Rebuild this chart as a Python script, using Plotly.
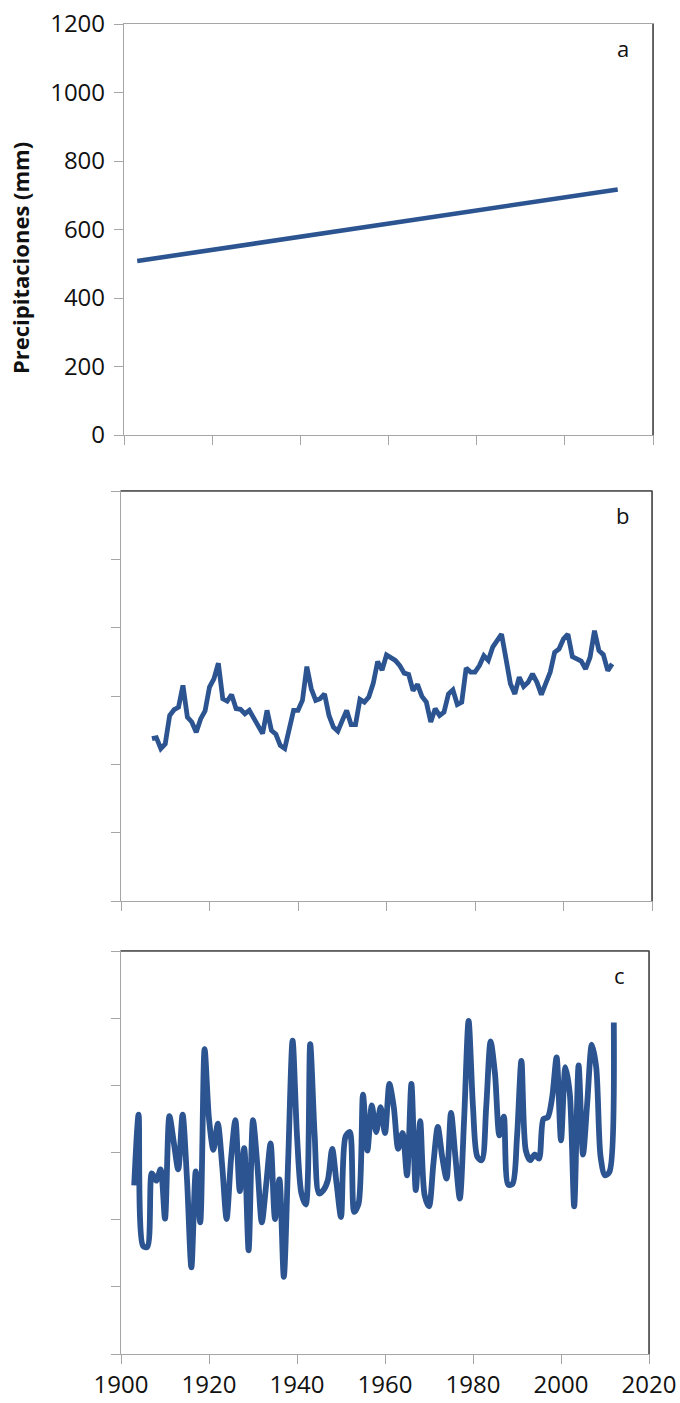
import plotly.graph_objects as go

# Annual precipitation series (mm), 1903-2012
years_c = list(range(1903, 2013))
precip_annual = [
    502, 713, 322, 319, 538, 516, 550, 403, 708, 630,
    550, 713, 520, 258, 544, 392, 908, 700, 608, 686,
    560, 402, 580, 696, 485, 613, 309, 696, 560, 392,
    505, 627, 402, 520, 230, 580, 933, 650, 478, 445,
    923, 655, 478, 488, 517, 611, 507, 408, 646, 661,
    423, 448, 772, 606, 740, 661, 735, 658, 804, 735,
    611, 658, 532, 804, 488, 693, 473, 440, 567, 676,
    587, 522, 718, 587, 463, 705, 992, 735, 587, 577,
    735, 931, 834, 651, 707, 504, 507, 646, 873, 606,
    577, 594, 582, 700, 705, 765, 883, 636, 854, 775,
    440, 859, 594, 755, 921, 854, 587, 532, 542, 987,
]

# Smoothed series (mm), 1907-2012
years_b = list(range(1907, 2013))
precip_smooth = [
    475, 478, 446, 460, 543, 560, 567, 631, 538, 524,
    494, 533, 556, 626, 650, 696, 592, 585, 604, 563,
    561, 548, 558, 533, 512, 490, 558, 499, 488, 455,
    446, 504, 558, 558, 587, 686, 621, 587, 592, 606,
    543, 509, 497, 528, 558, 516, 516, 590, 582, 597,
    637, 701, 676, 720, 713, 704, 689, 667, 663, 616,
    634, 599, 582, 524, 563, 543, 553, 606, 618, 575,
    582, 682, 670, 670, 689, 718, 704, 743, 762, 781,
    709, 636, 606, 655, 628, 640, 665, 640, 604, 636,
    670, 728, 738, 767, 781, 715, 709, 702, 679, 713,
    791, 733, 721, 674, 694,
]

# Linear trend (mm), endpoints 1903 and 2012
years_a = [1903, 2012]
precip_trend = [508, 717]

panel_labels = ["a", "b", "c"]
x_ticks = [1900, 1920, 1940, 1960, 1980, 2000, 2020]
y_ticks = [0, 200, 400, 600, 800, 1000, 1200]

W, H = 680, 1403
LINE_BLUE = "#2C5491"
AXIS_GRAY = "#A6A6A6"
BORDER_DARK = "#4A4A4A"
FONT = "Open Sans"


def fx(px):
    return px / W


def fy(py):
    return 1 - py / H


# plot-area boxes in pixels: (left, right, top, bottom)
boxes = [
    (124, 653, 24, 435),
    (121, 652, 491, 901),
    (121, 649, 951, 1354),
]

fig = go.Figure()

series = [
    (years_a, precip_trend, "linear", 4.6),
    (years_b, precip_smooth, "linear", 4.8),
    (years_c, precip_annual, "spline", 5.8),
]

for i, ((xs, ys, shape, lw), (l, r, t, b)) in enumerate(zip(series, boxes)):
    n = "" if i == 0 else str(i + 1)
    fig.add_trace(go.Scatter(
        x=xs, y=ys, mode="lines",
        line=dict(color=LINE_BLUE, width=lw, shape=shape,
                  **({"smoothing": 0.8} if shape == "spline" else {})),
        xaxis="x" + n, yaxis="y" + n, showlegend=False, hoverinfo="skip",
    ))
    show_x_labels = (i == 2)
    show_y_labels = (i == 0)
    fig.update_layout({
        "xaxis" + n: dict(
            domain=[fx(l), fx(r)], anchor="y" + n, automargin=False,
            range=[1900, 2020], tickvals=x_ticks,
            ticks="outside", ticklen=9, tickwidth=1.3, tickcolor=AXIS_GRAY,
            showticklabels=show_x_labels,
            showline=True, linecolor=AXIS_GRAY, linewidth=1.3, mirror=True,
            showgrid=False, zeroline=False,
            tickfont=dict(family=FONT, size=24, color="#111111"),
        ),
        "yaxis" + n: dict(
            domain=[fy(b), fy(t)], anchor="x" + n, automargin=False,
            range=[0, 1200], tickvals=y_ticks,
            ticks="outside", ticklen=9, tickwidth=1.3, tickcolor=AXIS_GRAY,
            showticklabels=show_y_labels, ticklabelstandoff=4,
            showline=True, linecolor=AXIS_GRAY, linewidth=1.3, mirror=True,
            showgrid=False, zeroline=False,
            tickfont=dict(family=FONT, size=24, color="#111111"),
        ),
    })
    # darker right edge of each plot frame
    fig.add_shape(type="line", xref="paper", yref="paper",
                  x0=fx(r), x1=fx(r), y0=fy(b), y1=fy(t),
                  line=dict(color=BORDER_DARK, width=1.6))
    if i > 0:
        fig.add_shape(type="line", xref="paper", yref="paper",
                      x0=fx(l), x1=fx(r), y0=fy(t), y1=fy(t),
                      line=dict(color=BORDER_DARK, width=1.3))
    fig.add_annotation(
        text=panel_labels[i], xref="paper", yref="paper",
        x=fx(r - 30), y=fy(t + 24), showarrow=False,
        xanchor="center", yanchor="middle",
        font=dict(family=FONT, size=22, color="#111111"),
    )

fig.add_annotation(
    text="<b>Precipitaciones (mm)</b>", xref="paper", yref="paper",
    x=fx(20), y=fy(258), textangle=-90, showarrow=False,
    xanchor="center", yanchor="middle",
    font=dict(family=FONT, size=22, color="#111111"),
)

fig.update_layout(
    width=W, height=H, autosize=False,
    margin=dict(l=0, r=0, t=0, b=0, pad=0),
    paper_bgcolor="white", plot_bgcolor="white",
)

fig.write_html("out.html")
